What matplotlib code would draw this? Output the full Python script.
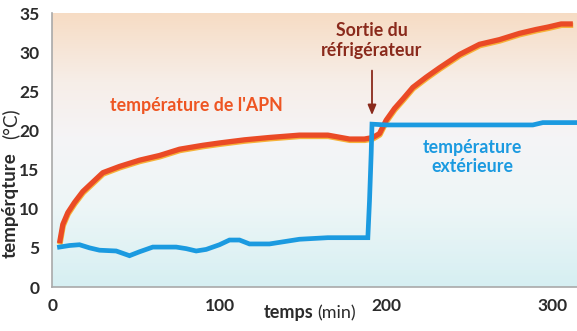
import matplotlib

matplotlib.use("Agg")
import matplotlib.pyplot as plt  # noqa: E402
import matplotlib.patheffects as pe  # noqa: E402
import numpy as np  # noqa: E402
from matplotlib.colors import LinearSegmentedColormap  # noqa: E402

# camera (APN) temperature
t_apn = [4, 6, 9, 13, 18, 23, 30, 40, 52, 64, 76, 90, 100, 115, 130, 148, 165,
         178, 187, 192, 196, 200, 205, 210, 216, 224, 232, 244, 256, 268,
         280, 290, 297, 305, 312]
T_apn = [5.6, 8.0, 9.5, 10.8, 12.2, 13.2, 14.6, 15.4, 16.2, 16.8, 17.6, 18.1,
         18.4, 18.8, 19.1, 19.4, 19.4, 18.9, 18.9, 19.1, 19.6, 21.3, 22.8,
         24.0, 25.5, 26.8, 28.0, 29.7, 31.0, 31.6, 32.4, 32.9, 33.2, 33.6, 33.6]

# outside temperature
t_ext = [4, 10, 16, 22, 28, 38, 46, 52, 60, 74, 80, 86, 92, 100, 106, 112,
         118, 130, 148, 165, 189, 190, 191, 191.5, 200, 250, 288, 294, 314]
T_ext = [5.1, 5.3, 5.4, 5.0, 4.7, 4.6, 4.0, 4.5, 5.1, 5.1, 4.9, 4.6, 4.8, 5.4,
         6.0, 6.0, 5.5, 5.5, 6.1, 6.3, 6.3, 11.0, 17.0, 20.8, 20.7, 20.7,
         20.7, 21.0, 21.0]

x_ticks = [0, 100, 200, 300]
y_ticks = [0, 5, 10, 15, 20, 25, 30, 35]

RED = "#ea4a26"
BLUE = "#1b9ae0"
DARK = "#2b2b2b"

plt.rcParams["font.family"] = ["Lato", "DejaVu Sans"]

fig = plt.figure(figsize=(5.77, 3.31), dpi=100)
ax = fig.add_axes([52 / 577, 44 / 331, 525 / 577, 274 / 331])
ax.set_xlim(-0.5, 314.5)
ax.set_ylim(0, 35)

# background wash: peach at top, white in the middle, pale cyan at the bottom
cmap = LinearSegmentedColormap.from_list(
    "wash",
    [(0.0, "#d6eff2"), (0.3, "#eef6f7"), (0.55, "#f5f4f6"),
     (0.75, "#f7eee8"), (1.0, "#f6dcc4")],
)
grad = np.linspace(0, 1, 256).reshape(-1, 1)
ax.imshow(grad, extent=[-0.5, 314.5, 0, 35], origin="lower", aspect="auto",
          cmap=cmap, zorder=0)

ax.plot(t_apn, T_apn, color=RED, lw=3.8, solid_capstyle="butt", zorder=3,
        path_effects=[pe.SimpleLineShadow(offset=(0.3, -1.0),
                                          shadow_color="#f6b23a", alpha=1.0),
                      pe.Normal()])
ax.plot(t_ext, T_ext, color=BLUE, lw=3.4, solid_joinstyle="miter", zorder=4)

for s in ("top", "right"):
    ax.spines[s].set_visible(False)
for s in ("left", "bottom"):
    ax.spines[s].set_color("#a9a9a9")
    ax.spines[s].set_linewidth(1.2)

ax.set_xticks(x_ticks)
ax.set_yticks(y_ticks)
ax.tick_params(length=0, labelsize=12.5, labelcolor=DARK)
ax.tick_params(axis="x", pad=8)
ax.tick_params(axis="y", pad=9)
for lab in ax.get_xticklabels() + ax.get_yticklabels():
    lab.set_fontweight("bold")

# axis titles, bold word + regular unit
fig.text(313 / 577, 1 - 318 / 331, "temps", ha="right", va="baseline",
         fontsize=13, fontweight="bold", color=DARK)
fig.text(317 / 577, 1 - 318 / 331, "(min)", ha="left", va="baseline",
         fontsize=13, color=DARK)
fig.text(10 / 577, 1 - 258 / 331, "tempérqture", rotation=90, ha="center",
         va="bottom", fontsize=13.5, fontweight="bold", color=DARK)
fig.text(10 / 577, 1 - 139 / 331, "(°C)", rotation=90, ha="center",
         va="bottom", fontsize=13.5, color=DARK)

# annotations
ax.text(34, 22.5, "température de l'APN", color="#ee5522", fontsize=12.8,
        fontweight="bold", ha="left", va="baseline", zorder=5)
ax.text(191.5, 33.8, "Sortie du\nréfrigérateur", color="#8a2a1c",
        fontsize=12.8, fontweight="bold", ha="center", va="top",
        linespacing=1.2, zorder=5)
ax.annotate("", xy=(191.5, 21.6), xytext=(191.5, 28.0),
            arrowprops=dict(arrowstyle="-|>,head_length=0.6,head_width=0.25",
                            color="#8a2a1c", lw=1.3), zorder=5)
ax.text(251.5, 18.9, "température\nextérieure", color=BLUE, fontsize=12.8,
        fontweight="bold", ha="center", va="top", linespacing=1.15, zorder=5)

fig.savefig("out.png", dpi=100, facecolor="white")
